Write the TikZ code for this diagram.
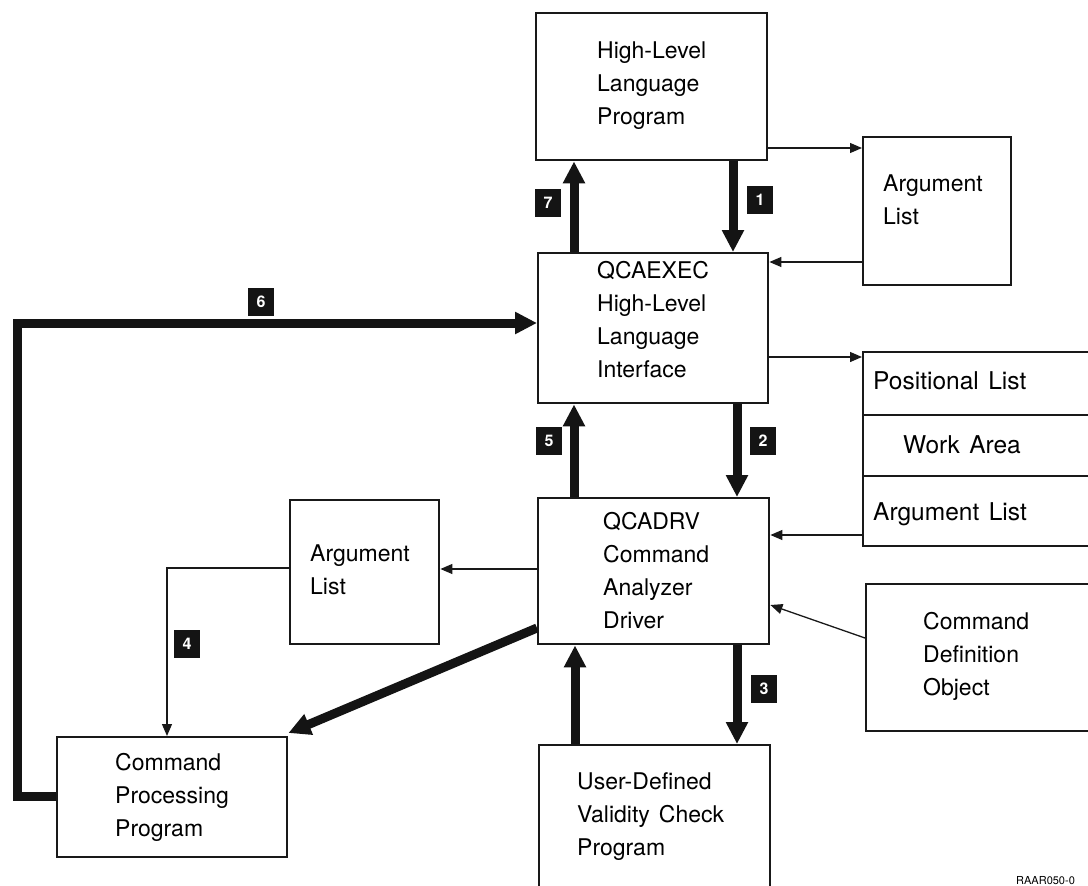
\documentclass[tikz,border=0pt]{standalone}
\usepackage{fontspec}
\setmainfont[WordSpace=1.4]{TeX Gyre Heros}
\usetikzlibrary{arrows.meta,calc}

\tikzset{
  box/.style={draw=black!90, line width=2.4pt, anchor=north west, inner sep=0pt},
  txt/.style={anchor=west, align=left, inner sep=0pt, font=\fontsize{23}{33}\selectfont},
  slot/.style={txt, font=\fontsize{24.5}{33}\selectfont},
  tag/.style={fill=black!92, text=white, inner sep=0pt, minimum width=26pt, minimum height=28pt,
              font=\bfseries\fontsize{16}{16}\selectfont},
  flow/.style={draw=black!92, line width=9pt, line join=miter, -{Triangle[width=21pt,length=22pt]}},
  ref/.style={draw=black!90, line width=1.3pt, -{Triangle[width=10pt,length=12pt]}},
}

\begin{document}
\begin{tikzpicture}[x=1pt,y=-1pt]
\useasboundingbox (0,0) rectangle (1088,886);
\clip (0,0) rectangle (1088,886);

% boxes
\node[box, minimum width=231pt, minimum height=147pt] (hll) at (535,12) {};
\node[box, minimum width=148pt, minimum height=148pt] (argA) at (862,136) {};
\node[box, minimum width=230pt, minimum height=150pt] (qcaexec) at (537,252) {};
\node[box, minimum width=260pt, minimum height=194pt] (lists) at (862,351) {};
\node[box, minimum width=231pt, minimum height=146pt] (qcadrv) at (537,497) {};
\node[box, minimum width=149pt, minimum height=144pt] (argB) at (289,499) {};
\node[box, minimum width=230pt, minimum height=120pt] (cpp) at (56,736) {};
\node[box, minimum width=260pt, minimum height=147pt] (cdo) at (865,583) {};
\node[box, minimum width=231pt, minimum height=180pt] (udvc) at (538,744) {};

% dividers of the list stack
\draw[draw=black!90, line width=1.3pt] (lists.west |- 0,415) -- (lists.east |- 0,415);
\draw[draw=black!90, line width=1.3pt] (lists.west |- 0,476) -- (lists.east |- 0,476);

% texts
\node[txt] (hllt) at (597,86) {High-Level\\Language\\Program};
\node[txt] (argAt) at (883,200) {Argument\\List};
\node[txt] (qcaexect) at (597,320) {QCAEXEC\\High-Level\\Language\\Interface};
\node[slot] (poslist) at (873,381) {Positional List};
\node[slot] (workarea) at (903,445) {Work Area};
\node[slot] (arglist) at (873,514) {Argument List};
\node[txt] (qcadrvt) at (603,571) {QCADRV\\Command\\Analyzer\\Driver};
\node[txt] (argBt) at (310,570) {Argument\\List};
\node[txt] (cppt) at (115,797) {Command\\Processing\\Program};
\node[txt] (cdot) at (923,656) {Command\\Definition\\Object};
\node[txt] (udvct) at (577,817) {User-Defined\\Validity Check\\Program};
\node[anchor=base west, inner sep=0pt, font=\fontsize{11}{11}\selectfont] (figid) at (1016,884) {RAAR050-0};

% control flow
\draw[flow] (qcaexec.north -| 574,0) -- (hll.south -| 574,0);
\draw[flow] (hll.south -| 733,0) -- (qcaexec.north -| 733,0);
\draw[flow] (qcaexec.south -| 737,0) -- (qcadrv.north -| 737,0);
\draw[flow] (qcadrv.north -| 574,0) -- (qcaexec.south -| 574,0);
\draw[flow] (qcadrv.south -| 737,0) -- (udvc.north -| 737,0);
\draw[flow] (udvc.north -| 575,0) -- (qcadrv.south -| 575,0);
\draw[flow] (qcadrv.west |- 0,628) -- (cpp.east |- 0,733);
\draw[flow] (cpp.west |- 0,796) -- (17,796) -- (17,323) -- (qcaexec.west |- 0,323);

% data references
\draw[ref] (hll.east |- 0,148) -- (argA.west |- 0,148);
\draw[ref] (argA.west |- 0,262) -- (qcaexec.east |- 0,262);
\draw[ref] (qcaexec.east |- 0,357) -- (lists.west |- 0,357);
\draw[ref] (lists.west |- 0,535) -- (qcadrv.east |- 0,535);
\draw[ref] (qcadrv.west |- 0,569) -- (argB.east |- 0,569);
\draw[ref] (argB.west |- 0,568) -| (cpp.north -| 167,0);
\draw[ref] (cdo.west |- 0,638) -- (qcadrv.east |- 0,605);

% step numbers
\node[tag] (t1) at (760,200) {1};
\node[tag] (t2) at (763,441) {2};
\node[tag] (t3) at (764,689) {3};
\node[tag] (t4) at (187,644) {4};
\node[tag] (t5) at (549,441) {5};
\node[tag] (t6) at (261,302) {6};
\node[tag] (t7) at (548,203) {7};
\end{tikzpicture}
\end{document}
